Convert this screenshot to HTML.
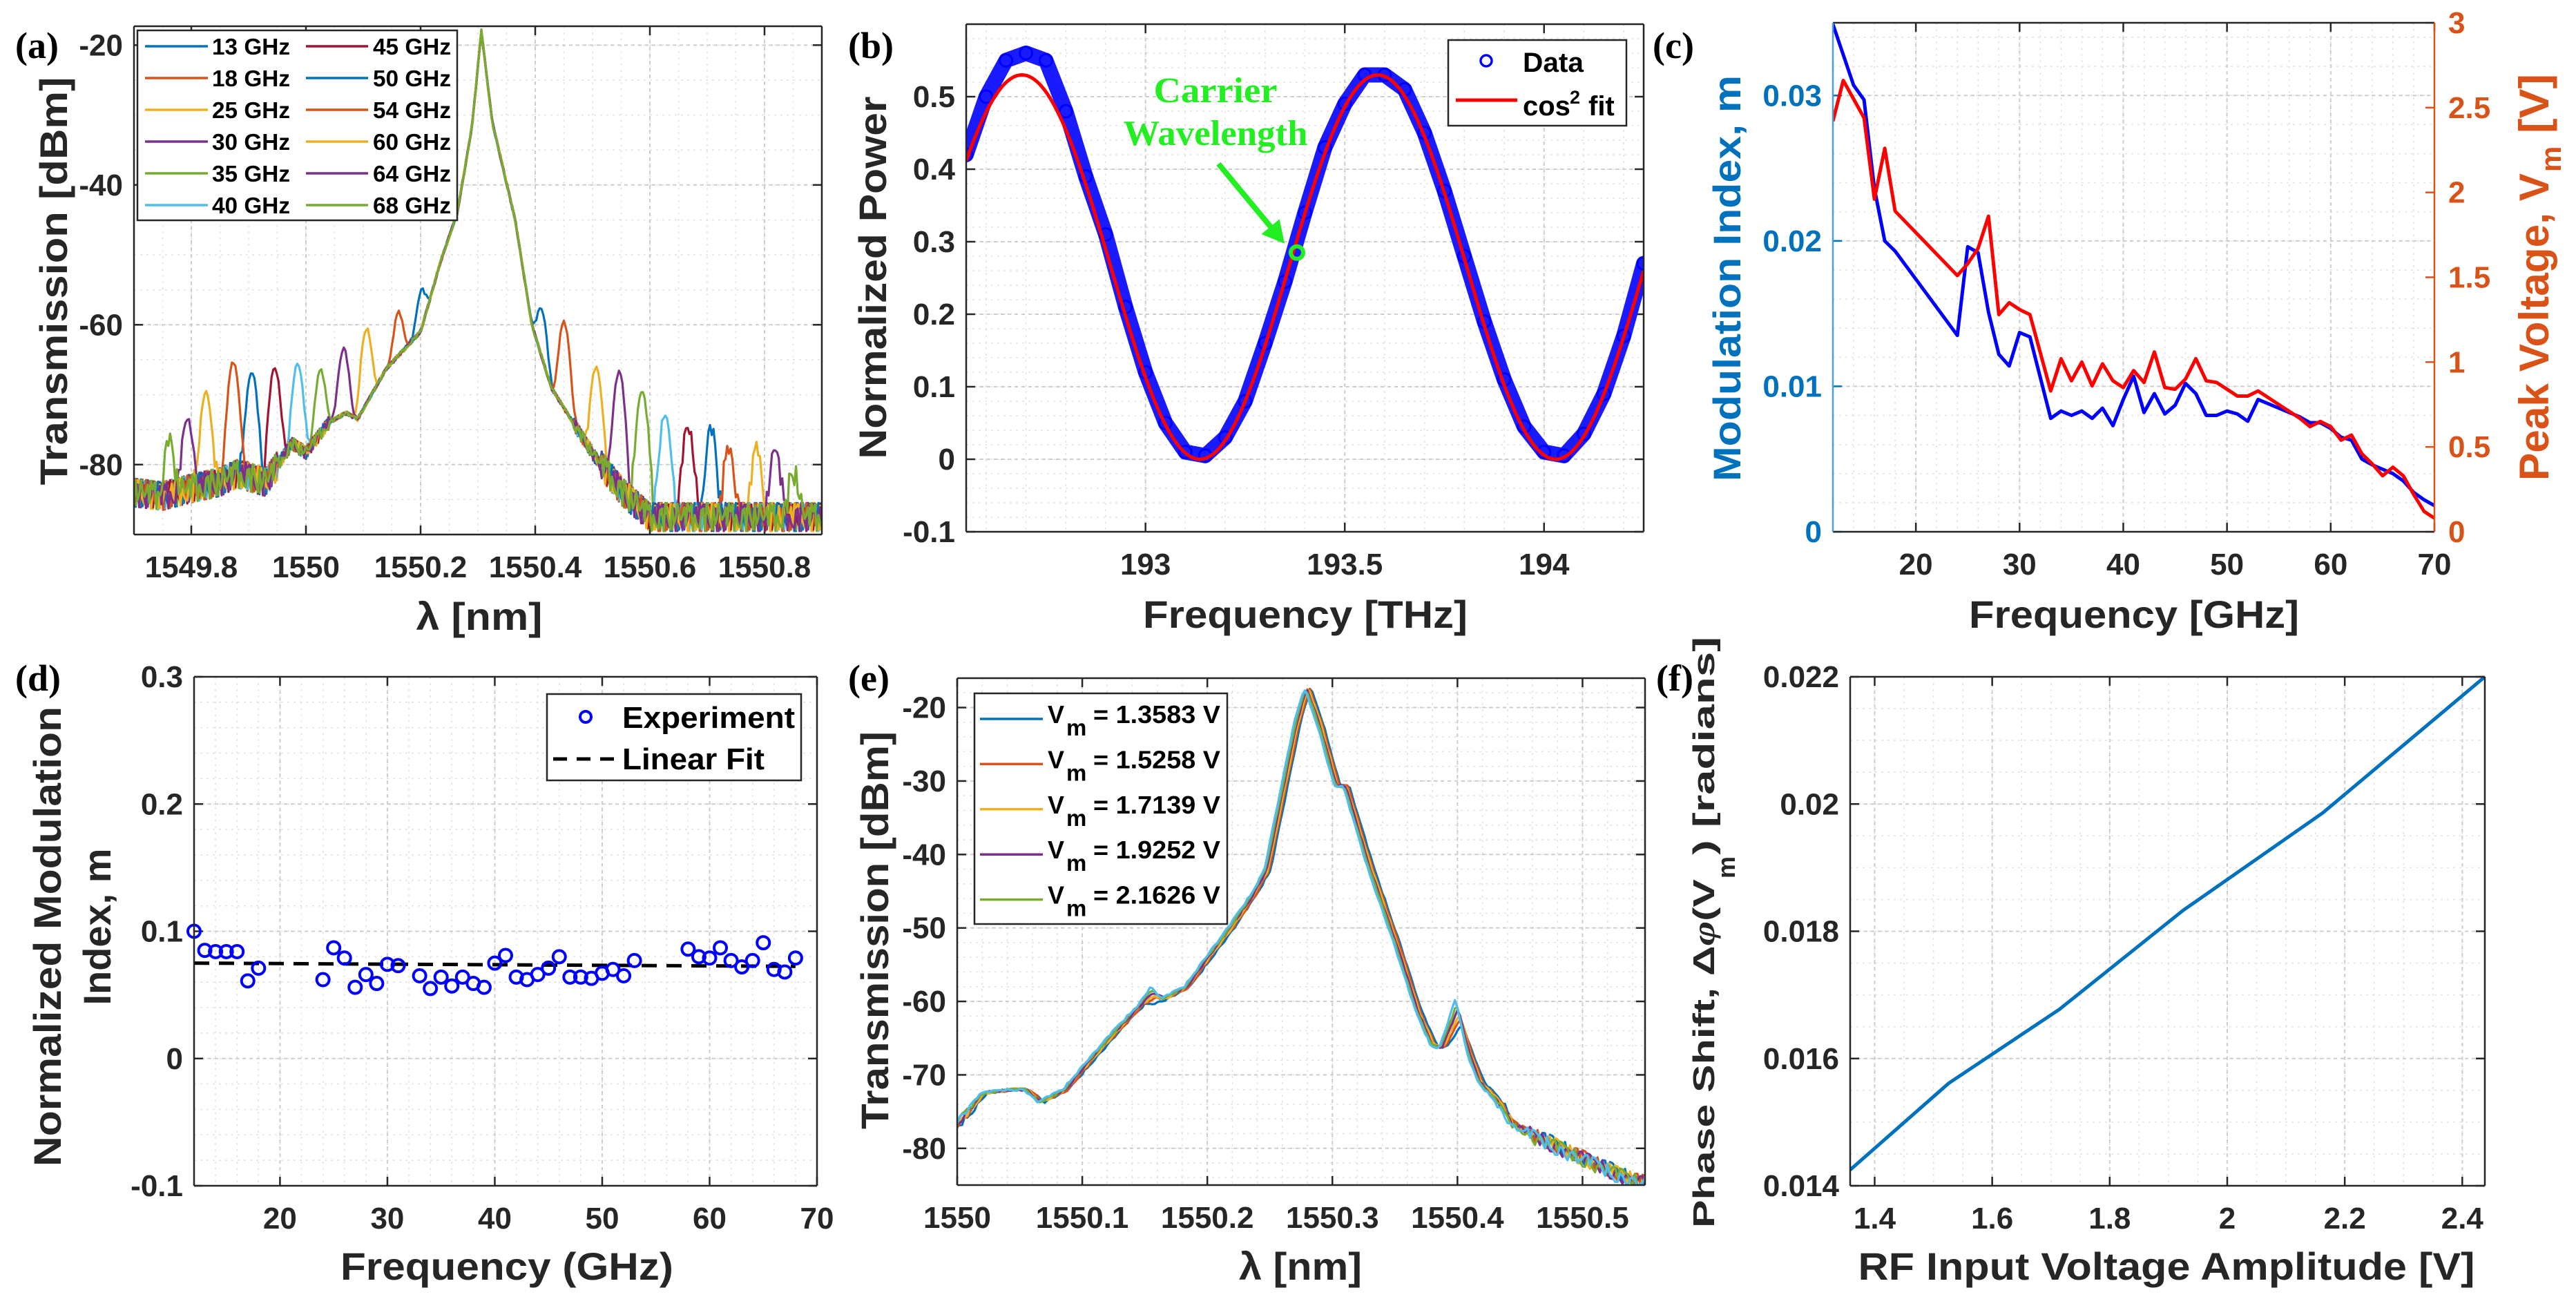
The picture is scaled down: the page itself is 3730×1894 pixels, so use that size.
<!DOCTYPE html>
<html><head><meta charset="utf-8">
<style>
html,body{margin:0;padding:0;background:#fff;}
svg{display:block;font-family:"Liberation Sans",Arial,sans-serif;}
.tick{font-size:44px;font-weight:bold;fill:#262626;}
.lab{font-size:56px;font-weight:bold;fill:#262626;}
.pl{font-family:"Liberation Serif",serif;font-size:54px;font-weight:bold;fill:#000;}
.leg{font-weight:bold;fill:#000;}
</style></head>
<body>
<svg id="fig" width="3730" height="1894" viewBox="0 0 3730 1894">
<rect x="0" y="0" width="3730" height="1894" fill="#fff"/>
<text class="pl" x="22" y="84">(a)</text>
<text class="pl" x="1228" y="84">(b)</text>
<text class="pl" x="2393" y="84">(c)</text>
<text class="pl" x="22" y="1000">(d)</text>
<text class="pl" x="1228" y="1000">(e)</text>
<text class="pl" x="2398" y="1000">(f)</text>
<text class="lab" transform="translate(97,407) rotate(-90)" text-anchor="middle" textLength="591" lengthAdjust="spacingAndGlyphs">Transmission [dBm]</text>
<text class="lab" x="694" y="912" text-anchor="middle" textLength="183" lengthAdjust="spacingAndGlyphs">λ [nm]</text>
<text class="lab" transform="translate(1283,402) rotate(-90)" text-anchor="middle" textLength="525" lengthAdjust="spacingAndGlyphs">Normalized Power</text>
<text class="lab" x="1890" y="909" text-anchor="middle" textLength="470" lengthAdjust="spacingAndGlyphs">Frequency [THz]</text>
<text class="lab" transform="translate(2520,403) rotate(-90)" text-anchor="middle" textLength="588" lengthAdjust="spacingAndGlyphs" style="fill:#0072BD">Modulation Index, m</text>
<g transform="translate(3690,401) rotate(-90)">
<text class="lab" x="-295" y="0" textLength="445" lengthAdjust="spacingAndGlyphs" style="fill:#D95319;font-size:60px">Peak Voltage, V</text>
<text class="lab" x="152" y="18" style="fill:#D95319;font-size:42px">m</text>
<text class="lab" x="208" y="0" textLength="86" lengthAdjust="spacingAndGlyphs" style="fill:#D95319;font-size:60px">[V]</text>
</g>
<text class="lab" x="3090" y="909" text-anchor="middle" textLength="478" lengthAdjust="spacingAndGlyphs">Frequency [GHz]</text>
<text class="lab" transform="translate(88,1356) rotate(-90)" text-anchor="middle" textLength="666" lengthAdjust="spacingAndGlyphs">Normalized Modulation</text>
<text class="lab" transform="translate(160,1342) rotate(-90)" text-anchor="middle" textLength="227" lengthAdjust="spacingAndGlyphs">Index, m</text>
<text class="lab" x="734" y="1853" text-anchor="middle" textLength="482" lengthAdjust="spacingAndGlyphs">Frequency (GHz)</text>
<text class="lab" transform="translate(1286,1347) rotate(-90)" text-anchor="middle" textLength="576" lengthAdjust="spacingAndGlyphs">Transmission [dBm]</text>
<text class="lab" x="1883" y="1853" text-anchor="middle" textLength="178" lengthAdjust="spacingAndGlyphs">λ [nm]</text>
<g transform="translate(2482,1350) rotate(-90)">
<text class="lab" x="-428" y="0" textLength="505" lengthAdjust="spacingAndGlyphs" style="font-size:44px">Phase Shift, Δ<tspan font-style="italic" font-family="Liberation Serif, serif">φ</tspan>(V</text>
<text class="lab" x="78" y="30" style="font-size:36px">m</text>
<text class="lab" x="112" y="0" textLength="316" lengthAdjust="spacingAndGlyphs" style="font-size:44px">) [radians]</text>
</g>
<text class="lab" x="3137" y="1853" text-anchor="middle" textLength="893" lengthAdjust="spacingAndGlyphs">RF Input Voltage Amplitude [V]</text>
</svg>
<script>
// ---------------- DATA ----------------
const aFreqs = [13,18,25,30,35,40,45,50,54,60,64,68];
const aLeftPeaks = [-56.4,-59.4,-60.9,-63.9,-67.1,-65.9,-66.3,-66.8,-65.4,-69.9,-73.8,-77.1];
const aRightPeaks = [-58.5,-59.9,-66.2,-66.9,-69.6,-73.1,-74.7,-75.0,-78.0,-78.0,-78.3,-82.2];
const aBaseLambda = [1549.70,1549.75,1549.80,1549.85,1549.88,1549.93,1549.976,1550.00,1550.04,1550.07,1550.09,1550.14,1550.20,1550.236,1550.264,1550.29,1550.306,1550.325,1550.365,1550.394,1550.428,1550.466,1550.505,1550.553,1550.60,1550.90];
const aBaseDbm = [-84,-84.5,-83.4,-82.5,-81.3,-82.5,-77,-78.3,-74,-72.6,-73.5,-66.3,-61,-50.7,-44,-31.5,-18,-31,-45,-60,-69,-74,-79,-84,-87.5,-87.5];
const aCarrier = [1550.306];
const aXTicks = [1549.8,1550,1550.2,1550.4,1550.6,1550.8];
const aXLabels = ['1549.8','1550','1550.2','1550.4','1550.6','1550.8'];
const aYTicks = [-80,-60,-40,-20];
const aYLabels = ['-80','-60','-40','-20'];
const noiseJitter = [0.6,-0.9,0.2,1,-0.4,-1,0.8,-0.2,0.4,-0.7,1,-0.5,0.1,0.9,-0.8,0.3,-0.1,0.7,-1,0.5,-0.3,0.95,-0.6,0.15];

const bFreq = [192.55,192.60,192.65,192.70,192.75,192.80,192.85,192.90,192.95,193.00,193.05,193.10,193.15,193.20,193.25,193.30,193.35,193.40,193.45,193.50,193.55,193.60,193.65,193.70,193.75,193.80,193.85,193.90,193.95,194.00,194.05,194.10,194.15,194.20,194.25];
const bPower = [0.42,0.50,0.55,0.56,0.55,0.48,0.39,0.31,0.21,0.12,0.05,0.01,0.005,0.03,0.08,0.16,0.245,0.34,0.43,0.49,0.53,0.53,0.51,0.45,0.37,0.28,0.19,0.11,0.045,0.01,0.005,0.035,0.09,0.17,0.27];
const bFitParams = [0.53,192.69,0.893,0];
const bCarrier = [193.38,0.285];
const bXTicks = [193,193.5,194];
const bXLabels = ['193','193.5','194'];
const bYTicks = [-0.1,0,0.1,0.2,0.3,0.4,0.5];
const bYLabels = ['-0.1','0','0.1','0.2','0.3','0.4','0.5'];

const cFreqM = [12,14,15,16,17,18,24,25,26,27,28,29,30,31,33,34,35,36,37,38,39,40,41,42,43,44,45,46,47,48,49,50,51,52,53,55,57,58,59,60,61,62,63,64,65,66,67,68,69,70];
const cModIndex = [0.0349,0.0307,0.0297,0.0236,0.0200,0.0193,0.0135,0.0196,0.0192,0.0151,0.0122,0.0114,0.0137,0.0134,0.0078,0.0083,0.0080,0.0083,0.0078,0.0085,0.0073,0.0091,0.0107,0.0082,0.0095,0.0081,0.0087,0.0102,0.0095,0.0080,0.0080,0.0083,0.0081,0.0076,0.0091,0.0085,0.0079,0.0075,0.0075,0.0071,0.0065,0.0063,0.0050,0.0046,0.0043,0.0040,0.0035,0.0027,0.0022,0.0018];
const cFreqV = [12,13,15,16,17,18,24,25,26,27,28,29,30,31,33,34,35,36,37,38,39,40,41,42,43,44,45,46,47,48,49,50,51,52,53,55,57,58,59,60,61,62,63,64,65,66,67,68,69,70];
const cVolt = [2.42,2.66,2.44,1.96,2.26,1.89,1.51,1.58,1.67,1.86,1.28,1.35,1.31,1.28,0.83,1.02,0.89,1.00,0.86,0.99,0.89,0.85,0.95,0.88,1.06,0.85,0.84,0.90,1.02,0.89,0.88,0.84,0.80,0.80,0.83,0.75,0.67,0.62,0.65,0.62,0.54,0.57,0.46,0.40,0.33,0.38,0.33,0.22,0.12,0.08];
const cXTicks = [20,30,40,50,60,70];
const cXLabels = ['20','30','40','50','60','70'];
const cYTicks = [0,0.01,0.02,0.03];
const cYLabels = ['0','0.01','0.02','0.03'];
const cY2Ticks = [0,0.5,1,1.5,2,2.5,3];
const cY2Labels = ['0','0.5','1','1.5','2','2.5','3'];

const dFreq = [12,13,14,15,16,17,18,24,25,26,27,28,29,30,31,33,34,35,36,37,38,39,40,41,42,43,44,45,46,47,48,49,50,51,52,53,58,59,60,61,62,63,64,65,66,67,68];
const dIndex = [0.100,0.085,0.084,0.084,0.084,0.061,0.071,0.062,0.087,0.079,0.056,0.066,0.059,0.074,0.073,0.065,0.055,0.064,0.057,0.064,0.059,0.056,0.075,0.081,0.064,0.062,0.066,0.071,0.080,0.064,0.064,0.063,0.067,0.070,0.065,0.077,0.086,0.080,0.079,0.087,0.077,0.072,0.077,0.091,0.070,0.068,0.079];
const dFitCoef = [0.0755,-0.000045];
const dFitRange = [12,68];
const dXTicks = [20,30,40,50,60,70];
const dXLabels = ['20','30','40','50','60','70'];
const dYTicks = [-0.1,0,0.1,0.2,0.3];
const dYLabels = ['-0.1','0','0.1','0.2','0.3'];

const eVm = ['1.3583','1.5258','1.7139','1.9252','2.1626'];
const eLambda = [1550.000,1550.021,1550.043,1550.056,1550.067,1550.087,1550.104,1550.126,1550.148,1550.157,1550.166,1550.184,1550.201,1550.219,1550.237,1550.248,1550.259,1550.272,1550.280,1550.290,1550.304,1550.311,1550.330,1550.352,1550.369,1550.381,1550.388,1550.401,1550.410,1550.419,1550.432,1550.445,1550.463,1550.485,1550.507,1550.529,1550.550];
const eBase = [-76.8,-72.5,-72.0,-72.0,-73.7,-72.0,-68.5,-64.3,-60.3,-58.9,-59.6,-58.0,-54.0,-50.0,-45.5,-42.1,-32.9,-22.1,-17.3,-22.1,-30.7,-30.7,-41.5,-52.3,-61.4,-66.0,-66.3,-60.3,-67.1,-71.1,-73.4,-76.8,-78.5,-80.2,-81.9,-83.6,-84.8];
const eBump1 = [-60.2,-59.6,-59.2,-58.8,-58.4,-58.0];
const eBump2 = [-63.2,-62.4,-61.6,-61.0,-60.4,-59.6];
const eShift = [0.0025,0.0015,0.0005,-0.0005,-0.0015,-0.0025];
const eXTicks = [1550,1550.1,1550.2,1550.3,1550.4,1550.5];
const eXLabels = ['1550','1550.1','1550.2','1550.3','1550.4','1550.5'];
const eYTicks = [-80,-70,-60,-50,-40,-30,-20];
const eYLabels = ['-80','-70','-60','-50','-40','-30','-20'];

const fVolt = [1.3583,1.5258,1.7139,1.9252,2.1626,2.4384];
const fPhase = [0.01425,0.01561,0.01677,0.01833,0.01986,0.0220];
const fXTicks = [1.4,1.6,1.8,2,2.2,2.4];
const fXLabels = ['1.4','1.6','1.8','2','2.2','2.4'];
const fYTicks = [0.014,0.016,0.018,0.02,0.022];
const fYLabels = ['0.014','0.016','0.018','0.02','0.022'];

// ---------------- HELPERS ----------------
const NS = 'http://www.w3.org/2000/svg';
const fig = document.getElementById('fig');
const COL = ['#0072BD','#D95319','#EDB120','#7E2F8E','#77AC30','#4DBEEE','#A2142F'];
function mk(tag, attrs, parent) {
  const e = document.createElementNS(NS, tag);
  for (const k in attrs) e.setAttribute(k, attrs[k]);
  (parent || fig).appendChild(e);
  return e;
}
function lin(d0, d1, r0, r1) { return v => r0 + (v - d0) * (r1 - r0) / (d1 - d0); }
function interp(xs, ys, x) {
  if (x <= xs[0]) return ys[0];
  for (let i = 1; i < xs.length; i++) {
    if (x <= xs[i]) { const t = (x - xs[i-1]) / (xs[i] - xs[i-1]); return ys[i-1] + t * (ys[i] - ys[i-1]); }
  }
  return ys[ys.length - 1];
}
function pathD(xs, ys, sx, sy) {
  let d = '';
  for (let i = 0; i < xs.length; i++) d += (i ? 'L' : 'M') + sx(xs[i]).toFixed(1) + ' ' + sy(ys[i]).toFixed(1);
  return d;
}

function frame(id, box, xr, yr, xt, xl, xm, yt, yl, ym, opt) {
  opt = opt || {};
  const g = mk('g', {});
  
  
  const sx = lin(xr[0], xr[1], box.L, box.R), sy = lin(yr[0], yr[1], box.B, box.T);
  const gm = mk('g', {stroke:'#e3e3e3','stroke-width':1.6,'stroke-dasharray':'3 6'}, g);
  
  
  for (let k = Math.ceil(xr[0]/xm - 1e-6); k*xm <= xr[1] + 1e-6; k++) {
    const x = sx(k*xm);
    const ln = mk('line', {x1:x, x2:x, y1:box.T, y2:box.B}, gm);
    
    
  }
  for (let k = Math.ceil(yr[0]/ym - 1e-6); k*ym <= yr[1] + 1e-6; k++) {
    const y = sy(k*ym);
    const ln = mk('line', {x1:box.L, x2:box.R, y1:y, y2:y}, gm);
    
    
  }
  const gM = mk('g', {stroke:'#cdcdcd','stroke-width':2,'stroke-dasharray':'5 5'}, g);
  
  
  xt.forEach(v => {
    const ln = mk('line', {x1:sx(v), x2:sx(v), y1:box.T, y2:box.B}, gM);
    
    
  });
  yt.forEach(v => {
    const ln = mk('line', {x1:box.L, x2:box.R, y1:sy(v), y2:sy(v)}, gM);
    
    
  });
  const gt = mk('g', {stroke:'#262626','stroke-width':2.5}, g);
  
  
  xt.forEach((v, i) => {
    const x = sx(v);
    const t1 = mk('line', {x1:x, x2:x, y1:box.B, y2:box.B - 13}, gt);
    
    
    const t2 = mk('line', {x1:x, x2:x, y1:box.T, y2:box.T + 13}, gt);
    
    
    const tx = mk('text', {x:x, y:box.B + 62, 'text-anchor':'middle', class:'tick'}, g);
    tx.textContent = xl[i];
    
    
  });
  yt.forEach((v, i) => {
    const y = sy(v);
    const t1 = mk('line', {x1:box.L, x2:box.L + 13, y1:y, y2:y, stroke: opt.leftColor || '#262626'}, gt);
    
    
    if (!opt.noRightTicks) {
      const t2 = mk('line', {x1:box.R, x2:box.R - 13, y1:y, y2:y}, gt);
      
      
    }
    const ty = mk('text', {x:box.L - 16, y:y + 15, 'text-anchor':'end', class:'tick'}, g);
    if (opt.leftColor) ty.setAttribute('style', 'fill:' + opt.leftColor);
    ty.textContent = yl[i];
    
    
  });
  const cp = mk('clipPath', {id: id + '-clip'}, g);
  
  
  const cr = mk('rect', {x:box.L, y:box.T, width:box.R - box.L, height:box.B - box.T}, cp);
  
  
  const plot = mk('g', {'clip-path':'url(#' + id + '-clip)'});
  
  
  return {sx, sy, plot, box};
}
function drawBox(id, box, opt) {
  opt = opt || {};
  const g = mk('g', {'stroke-width':2.5, fill:'none'});
  
  
  const a = mk('line', {x1:box.L, x2:box.R, y1:box.T, y2:box.T, stroke:'#262626'}, g);
  
  
  const b = mk('line', {x1:box.L, x2:box.R, y1:box.B, y2:box.B, stroke:'#262626'}, g);
  
  
  const c = mk('line', {x1:box.L, x2:box.L, y1:box.T, y2:box.B, stroke: opt.leftColor || '#262626'}, g);
  
  
  const d = mk('line', {x1:box.R, x2:box.R, y1:box.T, y2:box.B, stroke: opt.rightColor || '#262626'}, g);
  
  
}
function legendBox(id, x, y, w, h) {
  const r = mk('rect', {x:x, y:y, width:w, height:h, fill:'#fff', stroke:'#262626', 'stroke-width':2.5});
  
  
}

// ---------------- PANEL A ----------------
(function(){
  const box = {L:194, R:1190, T:38, B:774};
  const ax = frame('a', box, [1549.7,1550.9], [-90,-17.3], aXTicks, aXLabels, 0.05, aYTicks, aYLabels, 5);
  const nm = 0.00801;
  const w = 0.009;
  aFreqs.forEach((f, k) => {
    const xs = [], ys = [];
    let i = 0;
    for (let lam = 1549.7; lam <= 1550.9; lam += 0.003, i++) {
      const base = interp(aBaseLambda, aBaseDbm, lam);
      const dl = lam - (aCarrier[0] - f*nm), dr = lam - (aCarrier[0] + f*nm);
      const p = Math.pow(10, base/10) + Math.pow(10, aLeftPeaks[k]/10)*Math.exp(-(dl/w)*(dl/w)) + Math.pow(10, aRightPeaks[k]/10)*Math.exp(-(dr/w)*(dr/w));
      let db = 10*Math.log10(p);
      const amp = db < -80 ? 2.0 : db < -74 ? 0.9 : 0.25;
      db += amp * noiseJitter[(i*5 + k*11) % noiseJitter.length];
      xs.push(lam); ys.push(db);
    }
    const path = mk('path', {d: pathD(xs, ys, ax.sx, ax.sy), fill:'none', stroke: COL[k % 7], 'stroke-width':3.2, 'stroke-linejoin':'round'}, ax.plot);
    
    
  });
  drawBox('a', box);
  legendBox('a', 199, 44, 463, 275);
  aFreqs.forEach((f, k) => {
    const col = k < 6 ? 0 : 1, row = k % 6;
    const y = 67 + row * 46;
    const x0 = col ? 443 : 210, x1 = col ? 533 : 301, tx = col ? 540 : 307;
    const l = mk('line', {x1:x0, x2:x1, y1:y, y2:y, stroke: COL[k % 7], 'stroke-width':3.5});
    
    
    const t = mk('text', {x:tx, y:y + 12, class:'leg', 'font-size':33, textLength:113, lengthAdjust:'spacingAndGlyphs'});
    t.textContent = f + ' GHz';
    
    
  });
})();

// ---------------- PANEL B ----------------
(function(){
  const box = {L:1399, R:2380, T:35, B:770};
  const ax = frame('b', box, [192.55,194.25], [-0.1,0.6], bXTicks, bXLabels, 0.1, bYTicks, bYLabels, 0.02);
  const band = mk('path', {d: pathD(bFreq, bPower, ax.sx, ax.sy), fill:'none', stroke:'#1a1aff', 'stroke-width':22, 'stroke-linejoin':'round', 'stroke-linecap':'round'}, ax.plot);
  
  
  bFreq.forEach((f, i) => {
    const c = mk('circle', {cx: ax.sx(f), cy: ax.sy(bPower[i]), r:9, fill:'none', stroke:'#0000ff', 'stroke-width':3}, ax.plot);
    
    
  });
  const fx = [], fy = [];
  for (let i = 0; i <= 340; i++) {
    const f = 192.55 + i * 0.005;
    const c = Math.cos(Math.PI * (f - bFitParams[1]) / bFitParams[2]);
    fx.push(f); fy.push(bFitParams[0] * c * c + bFitParams[3]);
  }
  const fit = mk('path', {d: pathD(fx, fy, ax.sx, ax.sy), fill:'none', stroke:'#ff0000', 'stroke-width':5}, ax.plot);
  
  
  const cx = ax.sx(bCarrier[0]), cy = ax.sy(bCarrier[1]);
  const mkc = mk('circle', {cx:cx, cy:cy, r:9, fill:'none', stroke:'#22ee22', 'stroke-width':6});
  
  
  const tipx = cx - 18, tipy = cy - 13, dx = 0.637, dy = 0.770;
  const al = mk('line', {x1:tipx - 150*dx, y1:tipy - 150*dy, x2:tipx - 20*dx, y2:tipy - 20*dy, stroke:'#22ee22', 'stroke-width':8});
  
  
  const bx = tipx - 32*dx, by = tipy - 32*dy;
  const ah = mk('polygon', {points: tipx + ',' + tipy + ' ' + (bx - 17*dy) + ',' + (by + 17*dx) + ' ' + (bx + 17*dy) + ',' + (by - 17*dx), fill:'#22ee22'});
  
  
  const t1 = mk('text', {x:1760, y:148, 'text-anchor':'middle', 'font-family':'Liberation Serif, serif', 'font-weight':'bold', 'font-size':52, fill:'#22ee22', textLength:179, lengthAdjust:'spacingAndGlyphs'});
  t1.textContent = 'Carrier';
  
  
  const t2 = mk('text', {x:1760, y:210, 'text-anchor':'middle', 'font-family':'Liberation Serif, serif', 'font-weight':'bold', 'font-size':52, fill:'#22ee22', textLength:267, lengthAdjust:'spacingAndGlyphs'});
  t2.textContent = 'Wavelength';
  
  
  drawBox('b', box);
  legendBox('b', 2097, 58, 258, 124);
  const lc = mk('circle', {cx:2152, cy:88, r:8, fill:'none', stroke:'#0000ff', 'stroke-width':3.5});
  
  
  const lt = mk('text', {x:2205, y:104, class:'leg', 'font-size':40, textLength:88, lengthAdjust:'spacingAndGlyphs'});
  lt.textContent = 'Data';
  
  
  const ll = mk('line', {x1:2108, x2:2197, y1:145, y2:145, stroke:'#ff0000', 'stroke-width':5});
  
  
  const lf = mk('text', {x:2205, y:167, class:'leg', 'font-size':40});
  lf.textContent = 'cos';
  
  
  const ls = mk('text', {x:2273, y:150, class:'leg', 'font-size':27});
  ls.textContent = '2';
  
  
  const lf2 = mk('text', {x:2300, y:167, class:'leg', 'font-size':40});
  lf2.textContent = 'fit';
  
  
})();

// ---------------- PANEL C ----------------
(function(){
  const box = {L:2654, R:3525, T:33, B:770};
  const ax = frame('c', box, [12,70], [0,0.035], cXTicks, cXLabels, 2, cYTicks, cYLabels, 0.002, {leftColor:'#0072BD', noRightTicks:true});
  const sy2 = lin(0, 3, box.B, box.T);
  cY2Ticks.forEach((v, i) => {
    const tk = mk('line', {x1:box.R, x2:box.R - 13, y1:sy2(v), y2:sy2(v), stroke:'#D95319', 'stroke-width':2.5});
    
    
    const t = mk('text', {x:box.R + 20, y:sy2(v) + 15, class:'tick', style:'fill:#D95319'});
    t.textContent = cY2Labels[i];
    
    
  });
  const mline = mk('path', {d: pathD(cFreqM, cModIndex, ax.sx, ax.sy), fill:'none', stroke:'#0000ff', 'stroke-width':5, 'stroke-linejoin':'round'}, ax.plot);
  
  
  const vline = mk('path', {d: pathD(cFreqV, cVolt, ax.sx, sy2), fill:'none', stroke:'#ff0000', 'stroke-width':5, 'stroke-linejoin':'round'}, ax.plot);
  
  
  drawBox('c', box, {leftColor:'#4a9fd8', rightColor:'#D95319'});
})();

// ---------------- PANEL D ----------------
(function(){
  const box = {L:281, R:1183, T:980, B:1717};
  const ax = frame('d', box, [12,70], [-0.1,0.3], dXTicks, dXLabels, 2, dYTicks, dYLabels, 0.02);
  const fx = [dFitRange[0], dFitRange[1]];
  const fy = fx.map(f => dFitCoef[0] + dFitCoef[1]*f);
  const fit = mk('path', {d: pathD(fx, fy, ax.sx, ax.sy), fill:'none', stroke:'#000', 'stroke-width':5, 'stroke-dasharray':'22 14'}, ax.plot);
  
  
  dFreq.forEach((f, i) => {
    const c = mk('circle', {cx: ax.sx(f), cy: ax.sy(dIndex[i]), r:9, fill:'none', stroke:'#0000ff', 'stroke-width':4});
    
    
  });
  drawBox('d', box);
  legendBox('d', 792, 1005, 368, 125);
  const lc = mk('circle', {cx:848, cy:1038, r:8, fill:'none', stroke:'#0000ff', 'stroke-width':4});
  
  
  const lt = mk('text', {x:901, y:1054, class:'leg', 'font-size':44, textLength:250, lengthAdjust:'spacingAndGlyphs'});
  lt.textContent = 'Experiment';
  
  
  const ll = mk('line', {x1:801, x2:893, y1:1099, y2:1099, stroke:'#000', 'stroke-width':5, 'stroke-dasharray':'20 14'});
  
  
  const lf = mk('text', {x:901, y:1114, class:'leg', 'font-size':44, textLength:206, lengthAdjust:'spacingAndGlyphs'});
  lf.textContent = 'Linear Fit';
  
  
})();

// ---------------- PANEL E ----------------
(function(){
  const box = {L:1386, R:2382, T:982, B:1716};
  const ax = frame('e', box, [1550,1550.55], [-85,-16], eXTicks, eXLabels, 0.02, eYTicks, eYLabels, 2);
  const colors = ['#0072BD','#D95319','#EDB120','#7E2F8E','#77AC30','#4DBEEE'];
  [0,1,2,3,4,5].forEach(k => {
    const prof = eBase.slice();
    prof[9] = eBump1[k];
    prof[27] = eBump2[k];
    const xs = [], ys = [];
    let i = 0;
    for (let lam = 1550.0; lam <= 1550.55; lam += 0.002, i++) {
      let db = interp(eLambda, prof, lam - eShift[k]);
      const amp = db < -78 ? 1.0 : db < -74 ? 0.4 : 0.15;
      db += amp * noiseJitter[(i*7 + k*5) % noiseJitter.length];
      xs.push(lam); ys.push(db);
    }
    const p = mk('path', {d: pathD(xs, ys, ax.sx, ax.sy), fill:'none', stroke: colors[k], 'stroke-width':3.2, 'stroke-linejoin':'round'}, ax.plot);
    
    
  });
  drawBox('e', box);
  legendBox('e', 1411, 1004, 366, 334);
  eVm.forEach((v, k) => {
    const y = 1041 + k * 65.4;
    const l = mk('line', {x1:1419, x2:1510, y1:y, y2:y, stroke: colors[k], 'stroke-width':3.5});
    
    
    const t1 = mk('text', {x:1517, y:y + 6, class:'leg', 'font-size':36});
    t1.textContent = 'V';
    
    
    const t2 = mk('text', {x:1544, y:y + 24, class:'leg', 'font-size':33});
    t2.textContent = 'm';
    
    
    const t3 = mk('text', {x:1583, y:y + 6, class:'leg', 'font-size':36, textLength:184, lengthAdjust:'spacingAndGlyphs'});
    t3.textContent = '= ' + v + ' V';
    
    
  });
})();

// ---------------- PANEL F ----------------
(function(){
  const box = {L:2679, R:3598, T:980, B:1717};
  const ax = frame('f', box, [1.3583,2.4384], [0.014,0.022], fXTicks, fXLabels, 0.05, fYTicks, fYLabels, 0.0005);
  const line = mk('path', {d: pathD(fVolt, fPhase, ax.sx, ax.sy), fill:'none', stroke:'#0072BD', 'stroke-width':5, 'stroke-linejoin':'round'}, ax.plot);
  
  
  drawBox('f', box);
})();
</script>
</body></html>
